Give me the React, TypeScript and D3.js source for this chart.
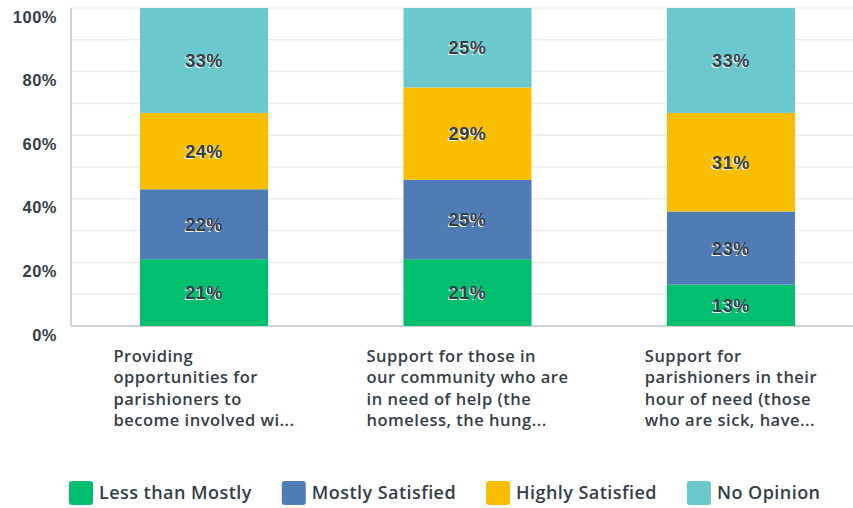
import React, { useRef, useEffect } from 'react';
import * as d3 from 'd3';

const categories = [
  'Providing opportunities for parishioners to become involved wi...',
  'Support for those in our community who are in need of help (the homeless, the hung...',
  'Support for parishioners in their hour of need (those who are sick, have...',
];
const categoryLines = [
  ['Providing', 'opportunities for', 'parishioners to', 'become involved wi...'],
  ['Support for those in', 'our community who are', 'in need of help (the', 'homeless, the hung...'],
  ['Support for', 'parishioners in their', 'hour of need (those', 'who are sick, have...'],
];
const seriesNames = ['Less than Mostly', 'Mostly Satisfied', 'Highly Satisfied', 'No Opinion'];
const seriesColors = ['#00bf6f', '#507cb6', '#f9be00', '#6bc8cd'];
const lessThanMostly = [21, 21, 13];
const mostlySatisfied = [22, 25, 23];
const highlySatisfied = [24, 29, 31];
const noOpinion = [33, 25, 33];
const yTicks = [0, 20, 40, 60, 80, 100];

const width = 853;
const height = 508;
const margin = { top: 8, left: 71, bottom: 182 };
const plotBottom = height - margin.bottom;

const App = () => {
  const svgRef = useRef<SVGSVGElement>(null);

  useEffect(() => {
    const svg = d3.select(svgRef.current);
    svg.selectAll('*').remove();

    const y = d3.scaleLinear().domain([0, 100]).range([plotBottom, margin.top]);
    const x = d3
      .scaleBand()
      .domain(categories)
      .range([margin.left, 864])
      .paddingInner(0.514)
      .paddingOuter(0.262);

    // grid
    svg
      .append('g')
      .selectAll('line')
      .data(d3.range(10, 101, 10))
      .join('line')
      .attr('x1', margin.left)
      .attr('x2', width)
      .attr('y1', (d) => y(d))
      .attr('y2', (d) => y(d))
      .attr('stroke', '#ececec')
      .attr('stroke-width', 1.5);

    // axes lines
    svg
      .append('line')
      .attr('x1', margin.left)
      .attr('x2', margin.left)
      .attr('y1', margin.top)
      .attr('y2', plotBottom)
      .attr('stroke', '#d3d3d3')
      .attr('stroke-width', 2);
    svg
      .append('line')
      .attr('x1', margin.left)
      .attr('x2', width)
      .attr('y1', plotBottom)
      .attr('y2', plotBottom)
      .attr('stroke', '#d3d3d3')
      .attr('stroke-width', 2);

    // y tick labels
    svg
      .append('g')
      .selectAll('text')
      .data(yTicks)
      .join('text')
      .attr('x', 57)
      .attr('y', (d) => y(d) + 14.5)
      .attr('text-anchor', 'end')
      .attr('font-family', 'Liberation Sans, Arial, sans-serif')
      .attr('font-weight', 700)
      .attr('font-size', 16.5)
      .attr('letter-spacing', 0.5)
      .attr('fill', '#333e48')
      .text((d) => `${d}%`);

    // stack
    const rows = categories.map((c, i) => ({
      cat: c,
      s0: lessThanMostly[i],
      s1: mostlySatisfied[i],
      s2: highlySatisfied[i],
      s3: noOpinion[i],
    }));
    const stack = d3.stack<any>().keys(['s0', 's1', 's2', 's3'])(rows);

    const layers = svg
      .append('g')
      .selectAll('g')
      .data(stack)
      .join('g')
      .attr('fill', (_, i) => seriesColors[i]);

    layers
      .selectAll('rect')
      .data((d) => d)
      .join('rect')
      .attr('x', (d: any) => x(d.data.cat)!)
      .attr('width', x.bandwidth())
      .attr('y', (d) => y(d[1]))
      .attr('height', (d) => y(d[0]) - y(d[1]));

    layers
      .selectAll('text')
      .data((d) => d)
      .join('text')
      .attr('x', (d: any) => x(d.data.cat)! + x.bandwidth() / 2)
      .attr('y', (d) => (y(d[0]) + y(d[1])) / 2 + 6.5)
      .attr('text-anchor', 'middle')
      .attr('font-family', 'Liberation Sans, Arial, sans-serif')
      .attr('font-weight', 700)
      .attr('font-size', 18)
      .attr('letter-spacing', 0.6)
      .attr('fill', '#333e48')
      .style('text-shadow', '-1px 1px 0 #fff')
      .text((d) => `${d[1] - d[0]}%`);

    // category labels
    categories.forEach((c, i) => {
      const t = svg
        .append('text')
        .attr('font-family', 'Open Sans, sans-serif')
        .attr('font-weight', 600)
        .attr('font-size', 16.5)
        .attr('letter-spacing', 0.5)
        .attr('fill', '#333e48');
      categoryLines[i].forEach((line, j) => {
        t.append('tspan').attr('x', 0).attr('y', 362 + j * 21.3).text(line);
      });
      const w = (t.node() as SVGTextElement).getBBox().width;
      t.attr('transform', `translate(${x(c)! + x.bandwidth() / 2 - w / 2},0)`);
    });

    // legend
    let lx = 69;
    seriesNames.forEach((name, i) => {
      const g = svg.append('g');
      g.append('rect')
        .attr('x', lx)
        .attr('y', 481)
        .attr('width', 24)
        .attr('height', 24)
        .attr('rx', 3)
        .attr('fill', seriesColors[i]);
      const t = g
        .append('text')
        .attr('x', lx + 30)
        .attr('y', 499)
        .attr('font-family', 'Open Sans, sans-serif')
        .attr('font-weight', 600)
        .attr('font-size', 18)
        .attr('letter-spacing', 0.45)
        .attr('fill', '#333e48')
        .text(name);
      const w = (t.node() as SVGTextElement).getComputedTextLength();
      lx += 30 + w + 30;
    });
  }, []);

  return (
    <svg
      ref={svgRef}
      width={width}
      height={height}
      style={{ position: 'absolute', left: 0, top: 0, background: '#fff' }}
    />
  );
};

export default App;
